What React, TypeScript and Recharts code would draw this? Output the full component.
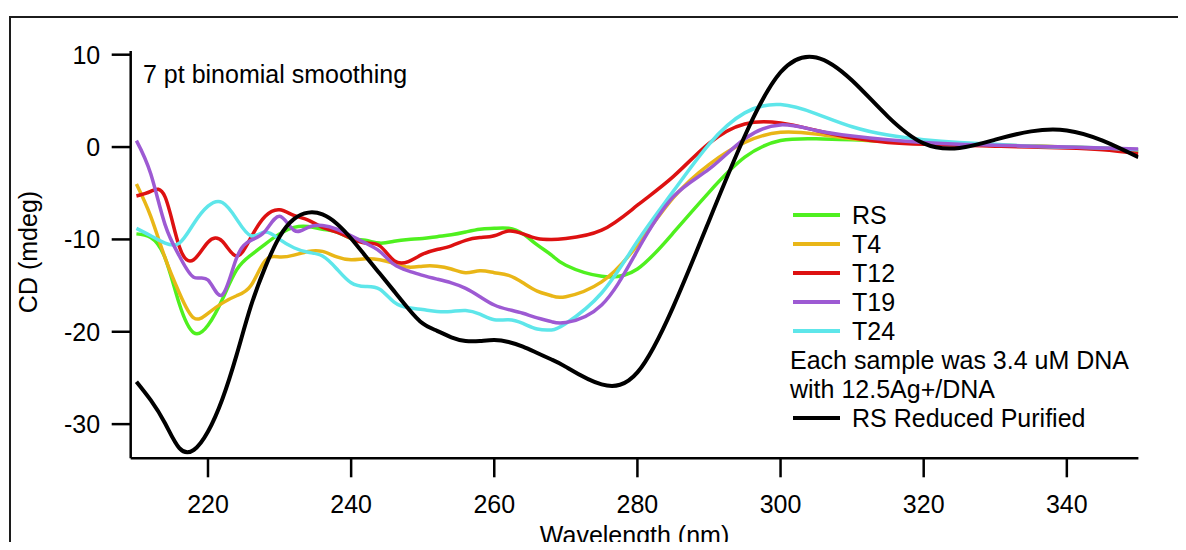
import React from 'react';
import { LineChart, Line, XAxis, YAxis, Legend, Label } from 'recharts';

const FONT = '"Liberation Sans", Arial, Helvetica, sans-serif';

// wavelength grid (nm)
const wavelengths = [
  210, 212, 214, 216, 218, 220, 222, 224, 226, 228, 230, 232, 234, 236, 238, 240,
  242, 244, 246, 248, 250, 252, 254, 256, 258, 260, 262, 264, 266, 268, 270,
  275, 280, 285, 290, 295, 300, 305, 310, 315, 320, 325, 330, 335, 340, 345, 350,
];

// CD (mdeg) per sample
const rs = [
  -9.4, -9.8, -12.0, -17.0, -20.1, -19.3, -16.5, -13.3, -11.7, -10.5, -9.4, -8.7, -8.6, -8.9, -9.2, -9.9,
  -10.1, -10.4, -10.2, -10.0, -9.9, -9.7, -9.5, -9.2, -8.9, -8.8, -8.8, -9.4, -10.6, -11.7, -12.8,
  -14.0, -13.2, -9.3, -4.9, -1.1, 0.7, 0.9, 0.8, 0.6, 0.4, 0.3, 0.2, 0.1, 0.0, -0.2, -0.5,
];
const t4 = [
  -4.0, -7.5, -12.0, -15.8, -18.5, -18.0, -16.9, -16.1, -15.0, -12.3, -11.9, -11.7, -11.3, -11.3, -11.9, -12.2,
  -12.1, -12.2, -12.6, -13.0, -12.9, -12.9, -13.2, -13.6, -13.4, -13.6, -13.9, -14.7, -15.6, -16.1, -16.2,
  -14.6, -10.6, -5.5, -1.9, 0.5, 1.6, 1.4, 0.9, 0.6, 0.4, 0.3, 0.2, 0.1, 0.0, -0.1, -0.3,
];
const t12 = [
  -5.3, -4.8, -5.4, -10.8, -12.2, -10.3, -10.2, -11.8, -9.8, -7.5, -6.8, -7.4, -7.9, -8.7, -9.2, -9.9,
  -10.4, -10.7, -12.3, -12.4, -11.6, -11.1, -10.7, -10.1, -9.8, -9.6, -9.1, -9.4, -9.9, -10.0, -9.9,
  -9.0, -6.3, -3.2, 0.4, 2.5, 2.6, 1.8, 1.0, 0.5, 0.3, 0.2, 0.1, 0.0, -0.1, -0.3, -0.7,
];
const t19 = [
  0.7, -2.9, -8.4, -11.8, -14.1, -14.4, -16.0, -12.0, -10.1, -9.1, -7.5, -9.0, -8.7, -8.5, -8.9, -9.6,
  -10.4, -11.3, -12.7, -13.4, -13.9, -14.3, -14.7, -15.3, -16.2, -17.1, -17.6, -18.0, -18.5, -18.9, -19.0,
  -17.1, -11.2, -5.4, -2.4, 0.9, 2.4, 1.8, 1.2, 0.8, 0.5, 0.3, 0.2, 0.1, 0.0, -0.1, -0.2,
];
const t24 = [
  -8.8, -9.6, -10.4, -10.4, -8.3, -6.4, -6.0, -7.8, -9.6, -9.2, -10.0, -10.9, -11.4, -11.8, -13.2, -14.7,
  -15.1, -15.4, -16.8, -17.4, -17.6, -17.8, -17.8, -17.7, -18.1, -18.7, -18.7, -19.1, -19.7, -19.8, -19.1,
  -15.8, -10.2, -4.8, 0.3, 3.7, 4.6, 3.6, 2.2, 1.3, 0.8, 0.5, 0.3, 0.1, 0.0, -0.1, -0.3,
];
const rsReduced = [
  -25.4, -27.4, -29.9, -32.6, -32.8, -30.8, -27.3, -22.5, -17.2, -13.0, -9.7, -7.8, -7.1, -7.3, -8.3, -9.9,
  -11.8, -13.7, -15.6, -17.5, -19.1, -19.9, -20.6, -21.0, -21.0, -20.9, -21.1, -21.6, -22.3, -23.0, -23.8,
  -25.7, -24.4, -17.3, -8.0, 1.2, 8.1, 9.7, 7.2, 3.3, 0.4, -0.1, 0.8, 1.7, 1.8, 0.7, -1.1,
];

const xTicks = [220, 240, 260, 280, 300, 320, 340];
const yTicks = [-30, -20, -10, 0, 10];
const noteLines = ['Each sample was 3.4 uM DNA', 'with 12.5Ag+/DNA'];

const series = [
  { key: 'rs', name: 'RS', color: '#4ff01f', values: rs },
  { key: 't4', name: 'T4', color: '#e9b617', values: t4 },
  { key: 't12', name: 'T12', color: '#dd1111', values: t12 },
  { key: 't24', name: 'T24', color: '#5ee6ea', values: t24 },
  { key: 't19', name: 'T19', color: '#9d5ad3', values: t19 },
  { key: 'rsReduced', name: 'RS Reduced Purified', color: '#000000', values: rsReduced },
];
const legendOrder = ['rs', 't4', 't12', 't19', 't24'];

const data = wavelengths.map((nm, i) => {
  const row: Record<string, number> = { nm };
  series.forEach((s) => {
    row[s.key] = s.values[i];
  });
  return row;
});

const tickStyle = { fontSize: 25, fill: '#000', fontFamily: FONT };

const LegendRow = ({ color, name }: { color: string; name: string }) => (
  <div style={{ display: 'flex', alignItems: 'center', height: 29 }}>
    <div style={{ width: 47, height: 4, background: color, marginLeft: 3, marginRight: 12 }} />
    <span>{name}</span>
  </div>
);

const renderLegend = () => {
  const byKey = (k: string) => series.find((s) => s.key === k)!;
  const black = byKey('rsReduced');
  return (
    <div style={{ fontFamily: FONT, fontSize: 25, lineHeight: '29px', color: '#000', whiteSpace: 'nowrap' }}>
      {legendOrder.map((k) => (
        <LegendRow key={k} color={byKey(k).color} name={byKey(k).name} />
      ))}
      {noteLines.map((t) => (
        <div key={t} style={{ height: 29 }}>{t}</div>
      ))}
      <LegendRow color={black.color} name={black.name} />
    </div>
  );
};

const XTitle = (props: any) => {
  const vb = props.viewBox;
  return (
    <text x={vb.x + vb.width / 2} y={vb.y + vb.height - 6} textAnchor="middle" fontSize={25} fontFamily={FONT} fill="#000">
      Wavelength (nm)
    </text>
  );
};

const YTitle = () => (
  <text x={36.5} y={252} transform="rotate(-90, 36.5, 252)" textAnchor="middle" fontSize={25} fontFamily={FONT} fill="#000">
    CD (mdeg)
  </text>
);

const App = () => {
  return (
    <div style={{ position: 'relative', width: 1186, height: 550, margin: -8, overflow: 'hidden', background: '#fff' }}>
      <div
        style={{
          position: 'absolute',
          left: 9,
          top: 16,
          width: 1400,
          height: 800,
          border: '2px solid #1c1c1c',
        }}
      />
      <LineChart width={1186} height={550} data={data} margin={{ top: 51, right: 47.6, bottom: 0, left: 0 }}>
        <XAxis
          dataKey="nm"
          type="number"
          domain={[209.2, 350]}
          ticks={xTicks}
          allowDataOverflow
          height={91.7}
          tickSize={19}
          tickMargin={17.5}
          tick={tickStyle}
          axisLine={{ stroke: '#000', strokeWidth: 2.5 }}
          tickLine={{ stroke: '#000', strokeWidth: 2.5 }}
        >
          <Label content={<XTitle />} />
        </XAxis>
        <YAxis
          type="number"
          domain={[-33.7, 10.4]}
          ticks={yTicks}
          allowDataOverflow
          width={130.7}
          tickSize={19}
          tickMargin={11.5}
          tick={tickStyle}
          axisLine={{ stroke: '#000', strokeWidth: 2.5 }}
          tickLine={{ stroke: '#000', strokeWidth: 2.5 }}
        >
          <Label content={<YTitle />} />
        </YAxis>
        <Legend
          layout="vertical"
          align="center"
          verticalAlign="middle"
          content={renderLegend}
          wrapperStyle={{ left: 790, top: 200.5, width: 390 }}
        />
        {series.map((s) => (
          <Line
            key={s.key}
            type="natural"
            dataKey={s.key}
            name={s.name}
            stroke={s.color}
            strokeWidth={s.key === 'rsReduced' ? 4 : 3.5}
            dot={false}
            activeDot={false}
            isAnimationActive={false}
          />
        ))}
      </LineChart>
      <div
        style={{
          position: 'absolute',
          left: 143,
          top: 61.8,
          fontFamily: FONT,
          fontSize: 25,
          lineHeight: '25px',
          color: '#000',
          whiteSpace: 'nowrap',
        }}
      >
        7 pt binomial smoothing
      </div>
    </div>
  );
};

export default App;
